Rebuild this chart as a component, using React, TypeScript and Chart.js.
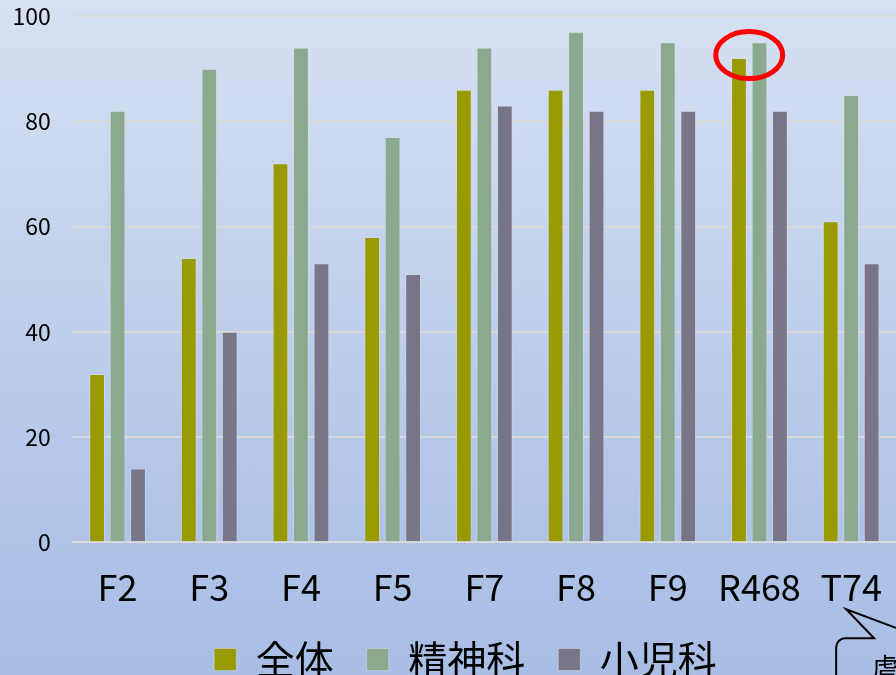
import React, { useEffect, useRef } from "react";
import { Chart, registerables } from "chart.js";

Chart.register(...registerables);

// Categories and series (percent)
const categories = ["F2", "F3", "F4", "F5", "F7", "F8", "F9", "R468", "T74"];
const seriesNames = ["全体", "精神科", "小児科"];
const allValues = [32, 54, 72, 58, 86, 86, 86, 92, 61];
const psychiatryValues = [82, 90, 94, 77, 94, 97, 95, 95, 85];
const pediatricsValues = [14, 40, 53, 51, 83, 82, 82, 82, 53];
const seriesColors = ["#999900", "#8ba98f", "#787587"];
const yTicks = [0, 20, 40, 60, 80, 100];

// Highlighted group and callout note
const highlightCategory = "R468";
const calloutCategory = "T74";
const calloutText = "虐待";

const CJK = '"Noto Sans CJK JP", "Noto Sans", sans-serif';

const highlightPlugin = {
  id: "highlightRing",
  afterDatasetsDraw(chart: any) {
    const idx = categories.indexOf(highlightCategory);
    const a = chart.getDatasetMeta(0).data[idx];
    const b = chart.getDatasetMeta(1).data[idx];
    if (!a || !b) return;
    const ctx = chart.ctx;
    const cx = (a.x + b.x) / 2;
    const cy = a.y - 3;
    ctx.save();
    ctx.beginPath();
    ctx.ellipse(cx, cy, 33.5, 23.5, 0, 0, Math.PI * 2);
    ctx.strokeStyle = "#ff0000";
    ctx.lineWidth = 5;
    ctx.stroke();
    ctx.restore();
  },
};

const calloutPlugin = {
  id: "calloutNote",
  afterDraw(chart: any) {
    const idx = categories.indexOf(calloutCategory);
    const xs = chart.scales.x;
    const tipX = xs.getPixelForValue(idx) - 5;
    const tipY = chart.chartArea.bottom + 67;
    const ctx = chart.ctx;
    const top = tipY + 29;
    const left = tipX - 10;
    const r = 9;
    ctx.save();
    ctx.beginPath();
    ctx.moveTo(tipX + 120, top);
    ctx.lineTo(tipX + 78, top);
    ctx.lineTo(tipX, tipY);
    ctx.lineTo(tipX + 28, top);
    ctx.lineTo(left + r, top);
    ctx.arcTo(left, top, left, top + r, r);
    ctx.lineTo(left, top + 120);
    ctx.strokeStyle = "#000000";
    ctx.lineWidth = 2;
    ctx.lineJoin = "miter";
    ctx.stroke();
    ctx.fillStyle = "#000000";
    ctx.font = `26px ${CJK}`;
    ctx.textBaseline = "top";
    ctx.textAlign = "left";
    ctx.fillText(calloutText, tipX + 26, top + 16);
    ctx.restore();
  },
};

// Nudge the legend box so its row sits centred under the plot rather than the canvas
const legendOffsetPlugin = {
  id: "legendOffset",
  afterLayout(chart: any) {
    if (chart.legend) chart.legend.left += 34;
  },
};

export default function App() {
  const canvasRef = useRef<HTMLCanvasElement | null>(null);

  useEffect(() => {
    const canvas = canvasRef.current;
    if (!canvas) return;
    const datasets = [allValues, psychiatryValues, pediatricsValues].map((vals, i) => ({
      label: seriesNames[i],
      data: vals,
      backgroundColor: seriesColors[i],
      borderColor: "rgba(225,225,225,0.45)",
      borderWidth: 1,
      categoryPercentage: 0.67,
      barPercentage: 0.77,
    }));
    const chart = new Chart(canvas, {
      type: "bar",
      data: { labels: categories, datasets },
      options: {
        responsive: false,
        animation: false,
        devicePixelRatio: 1,
        layout: { padding: { left: 0, right: 0, top: 16, bottom: 0 } },
        plugins: {
          tooltip: { enabled: false },
          legend: {
            position: "bottom",
            labels: {
              boxWidth: 22,
              boxHeight: 22,
              padding: 33,
              color: "#000000",
              font: { family: CJK, size: 39 },
            },
          },
        },
        scales: {
          x: {
            grid: { display: false, drawTicks: false },
            border: { display: false },
            ticks: {
              color: "#000000",
              padding: 23,
              font: { family: CJK, size: 36 },
              maxRotation: 0,
              autoSkip: false,
            },
            afterFit(scale: any) {
              scale.height = 64.7;
              scale.paddingLeft = 0;
              scale.paddingRight = 0;
            },
          },
          y: {
            min: 0,
            max: 100,
            afterBuildTicks(scale: any) {
              scale.ticks = yTicks.map((v) => ({ value: v }));
            },
            grid: { color: "#d9d9d9", lineWidth: 2, drawTicks: false },
            border: { display: false },
            ticks: {
              color: "#000000",
              padding: 21,
              font: { family: CJK, size: 23 },
            },
            afterFit(scale: any) {
              scale.width = 71.7;
              scale.paddingTop = 0;
              scale.paddingBottom = 0;
            },
          },
        },
      },
      plugins: [highlightPlugin, calloutPlugin, legendOffsetPlugin],
    });
    return () => chart.destroy();
  }, []);

  return (
    <div
      style={{
        position: "fixed",
        left: 0,
        top: 0,
        width: 896,
        height: 675,
        overflow: "hidden",
        background: "linear-gradient(to bottom, #d6e0f2 0%, #c0d0ec 45%, #afc3e7 80%, #a9bee5 100%)",
      }}
    >
      <canvas
        ref={canvasRef}
        width={897}
        height={689}
        style={{ display: "block", width: 897, height: 689 }}
      />
    </div>
  );
}
